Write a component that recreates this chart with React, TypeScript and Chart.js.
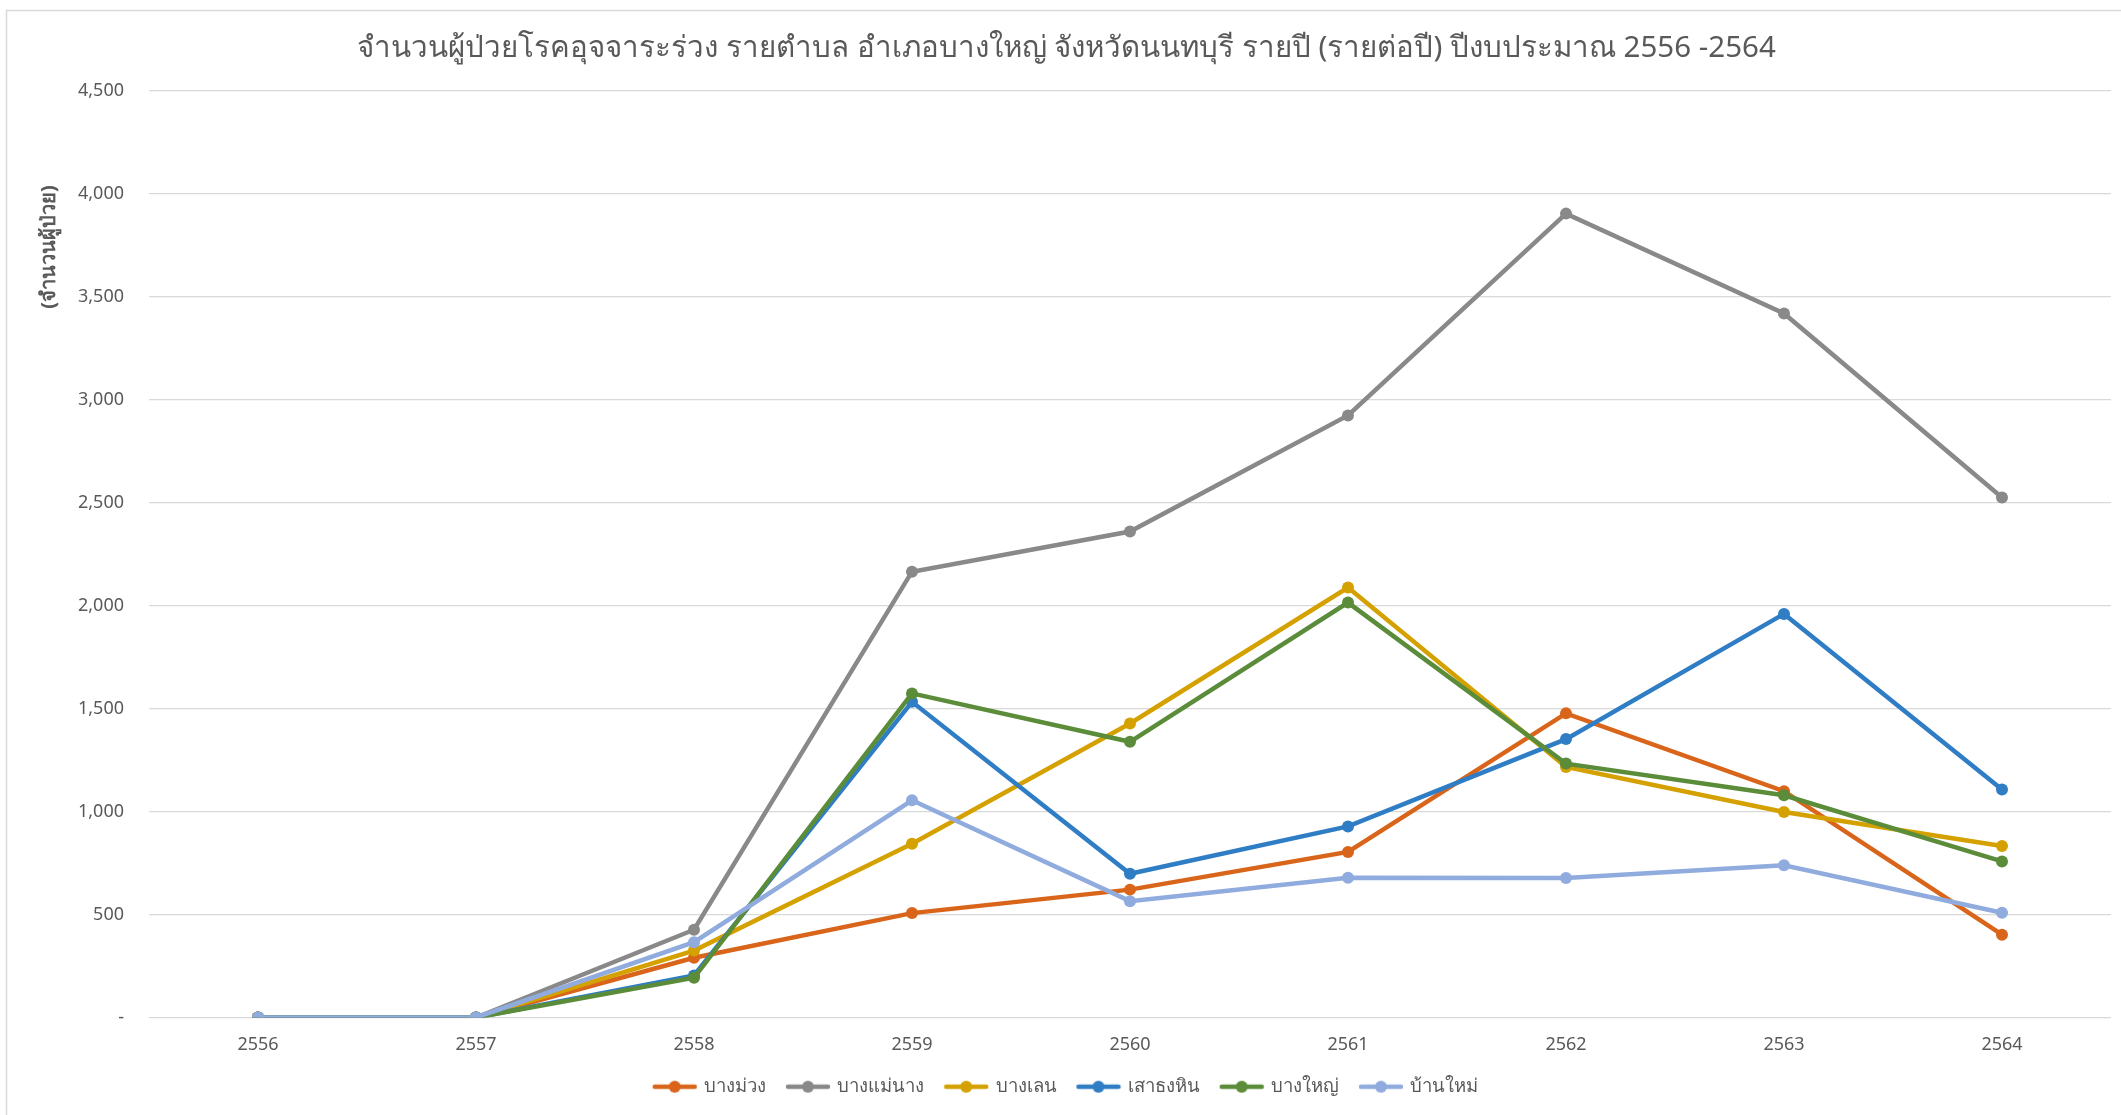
import React, { useEffect, useRef } from "react";
import { Chart, registerables } from "chart.js";

Chart.register(...registerables);

const years = ["2556", "2557", "2558", "2559", "2560", "2561", "2562", "2563", "2564"];
const seriesNames = ["บางม่วง", "บางแม่นาง", "บางเลน", "เสาธงหิน", "บางใหญ่", "บ้านใหม่"];
const bangMuang = [0, 0, 290, 507, 621, 804, 1477, 1099, 402];
const bangMaeNang = [0, 0, 426, 2165, 2360, 2924, 3904, 3419, 2525];
const bangLen = [0, 0, 325, 844, 1428, 2088, 1217, 998, 833];
const saoThongHin = [0, 0, 204, 1533, 698, 928, 1352, 1960, 1107];
const bangYai = [0, 0, 193, 1574, 1339, 2015, 1233, 1079, 758];
const banMai = [0, 0, 366, 1055, 565, 679, 677, 739, 509];
const seriesValues = [bangMuang, bangMaeNang, bangLen, saoThongHin, bangYai, banMai];
const seriesColors = ["#D9651B", "#898989", "#D4A100", "#2F7DC4", "#5B8C3A", "#90ABDD"];
const yTicks = [0, 500, 1000, 1500, 2000, 2500, 3000, 3500, 4000, 4500];

const titleText = "จำนวนผู้ป่วยโรคอุจจาระร่วง รายตำบล อำเภอบางใหญ่ จังหวัดนนทบุรี รายปี (รายต่อปี) ปีงบประมาณ 2556 -2564";
const yTitleText = "(จำนวนผู้ป่วย)";
const FONT = "'Noto Sans', 'Open Sans', 'DejaVu Sans', sans-serif";
const TEXT_COLOR = "#595959";

function legendIcon(color: string): HTMLCanvasElement {
  const c = document.createElement("canvas");
  c.width = 46;
  c.height = 14;
  const ctx = c.getContext("2d")!;
  ctx.strokeStyle = color;
  ctx.lineWidth = 4.5;
  ctx.lineCap = "round";
  ctx.beginPath();
  ctx.moveTo(3, 7);
  ctx.lineTo(43, 7);
  ctx.stroke();
  ctx.fillStyle = color;
  ctx.beginPath();
  ctx.arc(23, 7, 6, 0, Math.PI * 2);
  ctx.fill();
  return c;
}

const bgPlugin = {
  id: "bgBorder",
  beforeDraw(chart: any) {
    const ctx = chart.ctx;
    ctx.save();
    ctx.fillStyle = "#ffffff";
    ctx.fillRect(0, 0, chart.width, chart.height);
    ctx.strokeStyle = "#D9D9D9";
    ctx.lineWidth = 1.5;
    ctx.strokeRect(6.5, 10.5, chart.width + 10, chart.height + 10);
    ctx.restore();
  },
};

const yTitlePlugin = {
  id: "yTitle",
  afterDraw(chart: any) {
    const ctx = chart.ctx;
    const area = chart.chartArea;
    ctx.save();
    ctx.translate(area.left - 100, area.top + 156);
    ctx.rotate(-Math.PI / 2);
    ctx.font = `bold 20px ${FONT}`;
    ctx.fillStyle = TEXT_COLOR;
    ctx.textAlign = "center";
    ctx.textBaseline = "middle";
    ctx.fillText(yTitleText, 0, 0);
    ctx.restore();
  },
};

export default function App() {
  const ref = useRef<HTMLCanvasElement | null>(null);

  useEffect(() => {
    if (!ref.current) return;
    const icons = seriesColors.map((c) => legendIcon(c));
    const chart = new Chart(ref.current, {
      type: "line",
      data: {
        labels: years,
        datasets: seriesNames.map((name, i) => ({
          label: name,
          data: seriesValues[i],
          borderColor: seriesColors[i],
          backgroundColor: seriesColors[i],
          pointBackgroundColor: seriesColors[i],
          pointBorderWidth: 0,
          pointRadius: 6,
          borderWidth: 4.5,
          tension: 0,
          order: seriesNames.length - i,
          pointStyle: "circle",
        })),
      },
      options: {
        responsive: false,
        animation: false,
        devicePixelRatio: 1,
        layout: { padding: { left: 22, right: 10, top: 0, bottom: 9 } },
        plugins: {
          title: {
            display: true,
            text: titleText,
            color: TEXT_COLOR,
            font: { family: FONT, size: 29.5, weight: "normal" as any, lineHeight: 1.2 },
            padding: { top: 31, bottom: 24.5 },
          },
          legend: {
            position: "bottom",
            labels: {
              color: TEXT_COLOR,
              font: { family: FONT, size: 18.5 },
              usePointStyle: true,
              pointStyleWidth: 40,
              padding: 22,
              generateLabels: (ch: any) =>
                ch.data.datasets.map((ds: any, i: number) => ({
                  text: ds.label,
                  fillStyle: seriesColors[i],
                  strokeStyle: seriesColors[i],
                  lineWidth: 0,
                  pointStyle: icons[i],
                  hidden: !ch.isDatasetVisible(i),
                  datasetIndex: i,
                  fontColor: TEXT_COLOR,
                })),
            },
          },
          tooltip: { enabled: false },
        },
        scales: {
          x: {
            type: "category",
            offset: true,
            grid: { display: false, drawTicks: false },
            border: { display: false },
            ticks: { color: TEXT_COLOR, font: { family: FONT, size: 18 }, padding: 17 },
            afterFit: (scale: any) => {
              scale.height = 38;
            },
          },
          y: {
            min: 0,
            max: 4500,
            afterBuildTicks: (scale: any) => {
              scale.ticks = yTicks.map((v) => ({ value: v }));
            },
            afterFit: (scale: any) => {
              scale.width = 127;
            },
            grid: { color: "#D9D9D9", lineWidth: 1.2, drawTicks: false },
            border: { display: false },
            ticks: {
              color: TEXT_COLOR,
              font: { family: FONT, size: 18 },
              padding: 25,
              callback: (v: any) => (Number(v) === 0 ? "-" : Number(v).toLocaleString("en-US")),
            },
          },
        },
      },
      plugins: [bgPlugin, yTitlePlugin],
    });
    return () => chart.destroy();
  }, []);

  return (
    <div style={{ position: "fixed", left: 0, top: 0, width: 2121, height: 1115, background: "#fff" }}>
      <canvas ref={ref} width={2121} height={1115} style={{ width: 2121, height: 1115, display: "block" }} />
    </div>
  );
}
